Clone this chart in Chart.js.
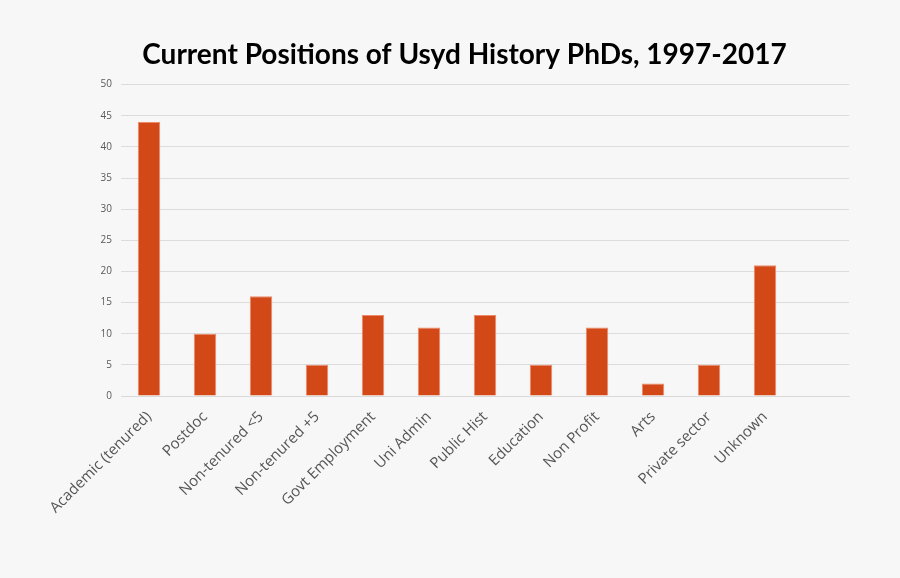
<!DOCTYPE html>
<html>
<head>
<meta charset="utf-8">
<script src="https://cdn.jsdelivr.net/npm/chart.js@4"></script>
<style>
  html, body { margin: 0; padding: 0; background: #f7f7f7; }
  #wrap { width: 900px; height: 578px; }
</style>
</head>
<body>
<div id="wrap"><canvas id="chart" width="900" height="578"></canvas></div>
<script>
// positions held by Usyd history PhDs (last slot is empty in the original)
const categories = ['Academic (tenured)', 'Postdoc', 'Non-tenured <5', 'Non-tenured +5',
  'Govt Employment', 'Uni Admin', 'Public Hist', 'Education', 'Non Profit', 'Arts',
  'Private sector', 'Unknown', ''];
const counts = [44, 10, 16, 5, 13, 11, 13, 5, 11, 2, 5, 21, null];
const yTicks = [0, 5, 10, 15, 20, 25, 30, 35, 40, 45, 50];

const ctx = document.getElementById('chart').getContext('2d');
new Chart(ctx, {
  type: 'bar',
  data: {
    labels: categories,
    datasets: [{
      data: counts,
      backgroundColor: '#d34817',
      borderColor: '#ec8a6c',
      borderWidth: 1,
      categoryPercentage: 1,
      barPercentage: 0.4
    }]
  },
  options: {
    responsive: false,
    animation: false,
    layout: { padding: { left: 40, right: 11, top: 0, bottom: 0 } },
    plugins: {
      legend: { display: false },
      tooltip: { enabled: false },
      title: {
        display: true,
        text: 'Current Positions of Usyd History PhDs, 1997-2017',
        color: '#000',
        font: { family: 'Lato', size: 28, weight: 'bold' },
        padding: { top: 38, bottom: 13 }
      }
    },
    scales: {
      x: {
        grid: { display: false },
        border: { color: '#d9d9d9' },
        ticks: {
          color: '#555555',
          font: { family: 'Open Sans', size: 15 },
          minRotation: 45,
          maxRotation: 45,
          autoSkip: false,
          padding: 4
        },
        afterFit: s => { s.height = 182; }
      },
      y: {
        min: 0,
        max: 50,
        afterBuildTicks: s => { s.ticks = yTicks.map(v => ({ value: v })); },
        grid: { color: '#dcdcdc', drawTicks: false },
        border: { display: false },
        ticks: {
          color: '#595959',
          font: { family: 'Open Sans', size: 10 },
          padding: 9
        },
        afterFit: s => { s.width = 81; }
      },
      // empty right-hand spacer so the plot ends where the original does
      spacer: {
        position: 'right',
        grid: { display: false, drawTicks: false },
        border: { display: false },
        ticks: { display: false },
        afterFit: s => { s.width = 40; }
      }
    }
  },
  plugins: [{
    id: 'bg',
    beforeDraw: c => {
      const g = c.ctx;
      g.save();
      g.fillStyle = '#f7f7f7';
      g.fillRect(0, 0, c.width, c.height);
      g.restore();
    }
  }]
});
</script>
</body>
</html>
